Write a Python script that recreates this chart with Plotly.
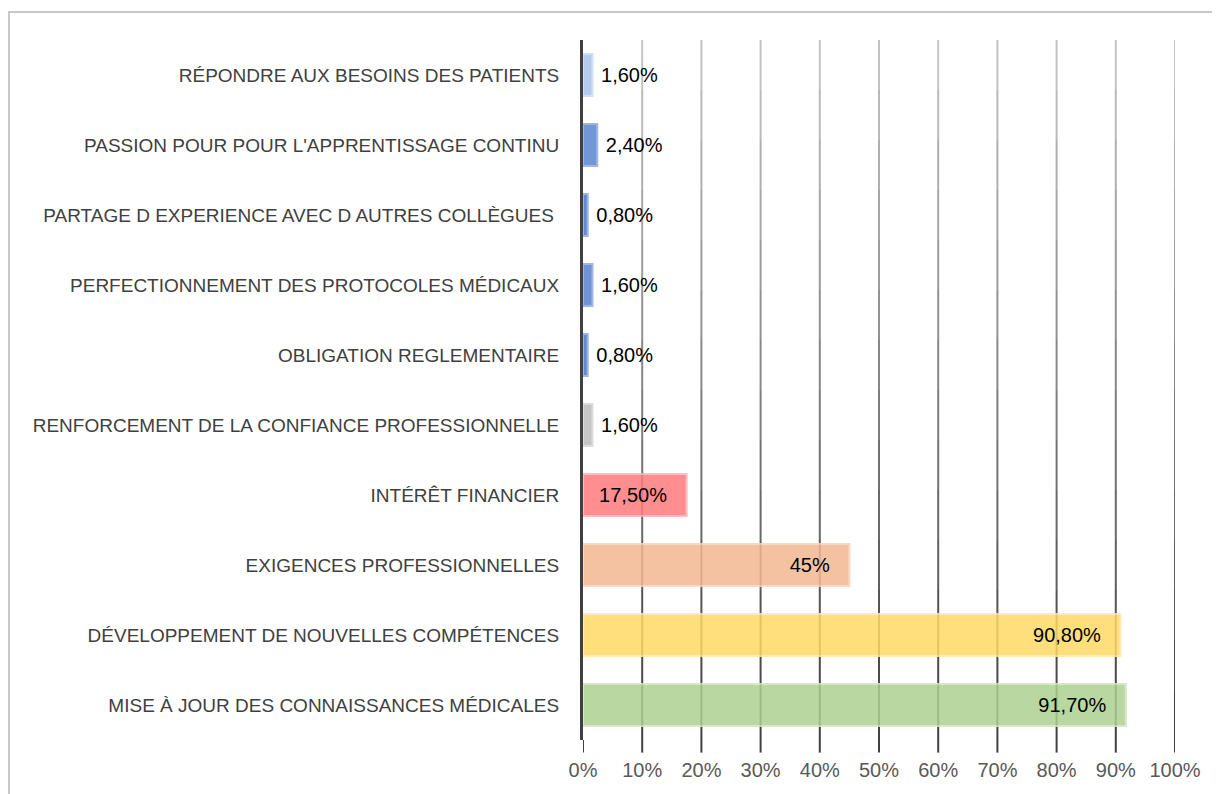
import plotly.graph_objects as go

categories = [
    "RÉPONDRE AUX BESOINS DES PATIENTS",
    "PASSION POUR POUR L'APPRENTISSAGE CONTINU",
    "PARTAGE D EXPERIENCE AVEC D AUTRES COLLÈGUES\u00a0",
    "PERFECTIONNEMENT DES PROTOCOLES MÉDICAUX",
    "OBLIGATION REGLEMENTAIRE",
    "RENFORCEMENT DE LA CONFIANCE PROFESSIONNELLE",
    "INTÉRÊT FINANCIER",
    "EXIGENCES PROFESSIONNELLES",
    "DÉVELOPPEMENT DE NOUVELLES COMPÉTENCES",
    "MISE À JOUR DES CONNAISSANCES MÉDICALES",
]
values = [0.016, 0.024, 0.008, 0.016, 0.008, 0.016, 0.175, 0.45, 0.908, 0.917]
labels = ["1,60%", "2,40%", "0,80%", "1,60%", "0,80%", "1,60%", "17,50%", "45%", "90,80%", "91,70%"]
tick_values = [0, 0.1, 0.2, 0.3, 0.4, 0.5, 0.6, 0.7, 0.8, 0.9, 1.0]
tick_labels = ["0%", "10%", "20%", "30%", "40%", "50%", "60%", "70%", "80%", "90%", "100%"]

colors = ["#a9c3ea", "#5a85cf", "#4a76c8", "#5a81d0", "#4a76c8", "#bcbcbc",
          "#ff7b7e", "#f4b891", "#ffd966", "#acd191"]
line_colors = ["#c9d9f2", "#8eaadf", "#8eaadf", "#8eaadf", "#8eaadf", "#d6d6d6",
               "#ffb0b2", "#f8d3ba", "#ffe9a6", "#cfe5c0"]
positions = ["outside"] * 6 + ["inside"] * 4
shown = [("\u00a0" + t) if p == "outside" else (t + "\u00a0\u00a0\u00a0") for t, p in zip(labels, positions)]

FONT = "Liberation Sans, Arial, sans-serif"

fig = go.Figure()
fig.add_trace(go.Bar(
    y=categories, x=values, orientation="h",
    marker=dict(color=colors, line=dict(color=line_colors, width=2), opacity=0.85),
    text=shown, textposition=positions, insidetextanchor="end",
    textfont=dict(family=FONT, size=20, color="#000000"),
    outsidetextfont=dict(family=FONT, size=20, color="#000000"),
    insidetextfont=dict(family=FONT, size=20, color="#000000"),
    cliponaxis=False, width=0.6, hoverinfo="skip",
))

# gradient gridlines (dark at bottom, light at top)
shapes = []
nseg = 14
for tv in tick_values[1:]:
    for i in range(nseg):
        y0 = i / nseg
        y1 = (i + 1) / nseg
        g = int(60 + (200 - 60) * ((i + 0.5) / nseg))
        shapes.append(dict(type="line", xref="x", yref="paper", x0=tv, x1=tv, y0=y0, y1=y1,
                           line=dict(color=f"rgb({g},{g},{g})", width=2), layer="below"))
for tv in tick_values:
    shapes.append(dict(type="line", xref="x", yref="paper", x0=tv, x1=tv, y0=-0.018, y1=0,
                       line=dict(color="#404040", width=2), layer="below"))
# chart border
shapes.append(dict(type="rect", xref="paper", yref="paper",
                   x0=(9 - 583) / 592, x1=1.2, y0=-0.2, y1=(740 - 12) / 700,
                   line=dict(color="#c8c8c8", width=2), fillcolor="rgba(0,0,0,0)", layer="below"))

fig.update_layout(
    width=1220, height=794,
    margin=dict(l=575, r=53, t=32, b=62),
    paper_bgcolor="white", plot_bgcolor="white",
    showlegend=False, shapes=shapes,
    font=dict(family=FONT, size=18, color="#404040"),
    xaxis=dict(range=[0, 1], tickvals=tick_values, ticktext=tick_labels, showgrid=False,
               zeroline=False, showline=False, ticks="", ticklabelstandoff=16,
               tickfont=dict(family=FONT, size=20, color="#595959"), fixedrange=True),
    yaxis=dict(categoryorder="array", categoryarray=categories, autorange="reversed",
               showline=True, linecolor="#404040", linewidth=3, ticks="",
               ticklabelstandoff=17, tickfont=dict(family=FONT, size=19, color="#404040"),
               showgrid=False, range=[9.5, -0.5]),
)

fig.write_html("out.html")
